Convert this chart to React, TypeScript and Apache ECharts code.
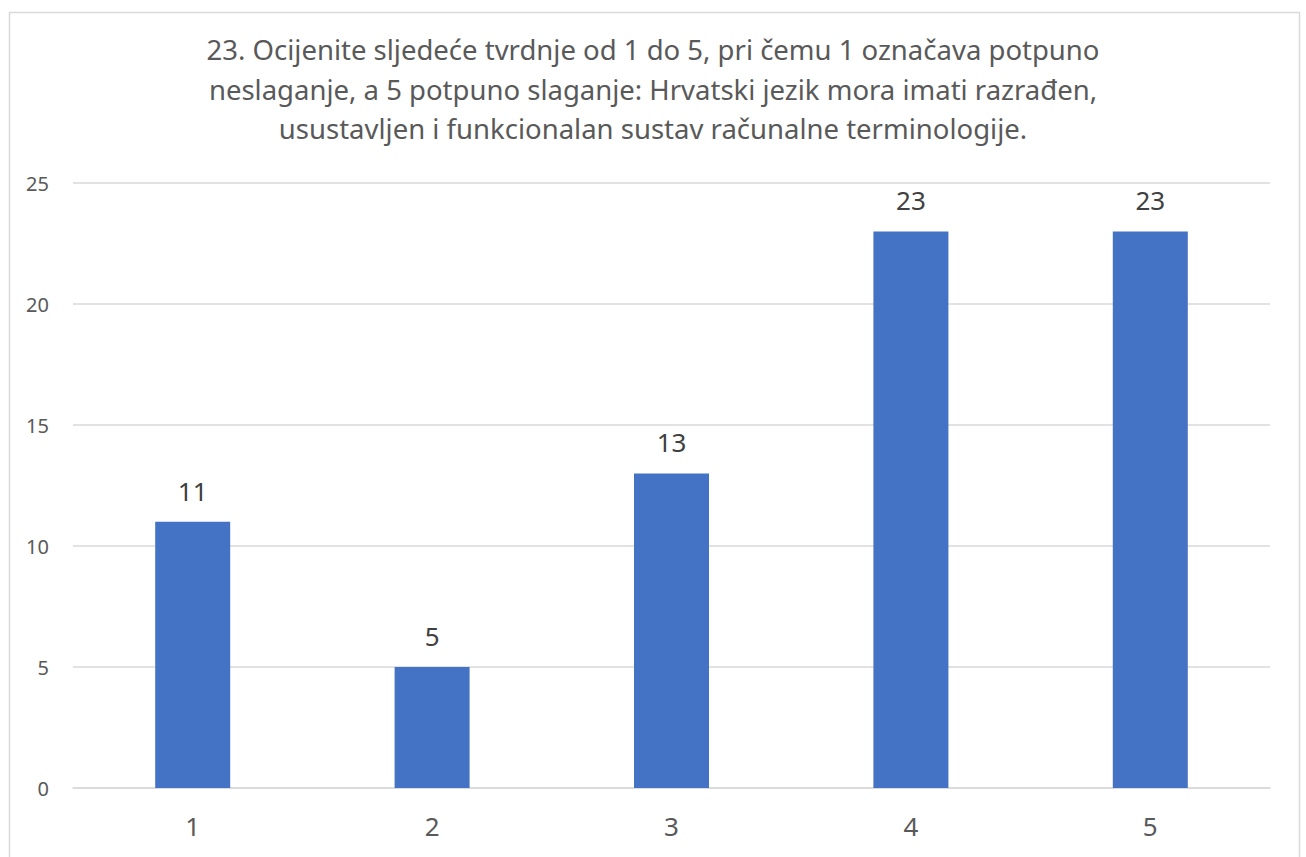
import React, { useEffect, useRef } from "react";
import * as echarts from "echarts";

const titleLines = [
  "23. Ocijenite sljedeće tvrdnje od 1 do 5, pri čemu 1 označava potpuno",
  "neslaganje, a 5 potpuno slaganje: Hrvatski jezik mora imati razrađen,",
  "usustavljen i funkcionalan sustav računalne terminologije.",
];
const categories = ["1", "2", "3", "4", "5"];
const values = [11, 5, 13, 23, 23];
const yTicks = { min: 0, max: 25, interval: 5 };

const FONT = "'Noto Sans', 'Open Sans', sans-serif";

export default function App() {
  const ref = useRef<HTMLDivElement>(null);
  useEffect(() => {
    if (!ref.current) return;
    const chart = echarts.init(ref.current, undefined, { renderer: "svg" });
    chart.setOption({
      animation: false,
      backgroundColor: "#ffffff",
      title: {
        text: titleLines.join("\n"),
        left: "center",
        top: 30,
        padding: 0,
        textStyle: {
          fontFamily: FONT,
          fontSize: 27.5,
          fontWeight: "normal",
          color: "#595959",
          lineHeight: 39.5,
        },
      },
      graphic: [
        {
          type: "rect",
          shape: { x: 9.5, y: 12.5, width: 1290, height: 880 },
          style: { fill: "none", stroke: "#d9d9d9", lineWidth: 1.5 },
          silent: true,
          z: -1,
        },
      ],
      grid: { left: 73, right: 36, top: 183, bottom: 69, containLabel: false },
      xAxis: {
        type: "category",
        data: categories,
        axisLine: { show: true, lineStyle: { color: "#d9d9d9", width: 1.5 } },
        axisTick: { show: false },
        axisLabel: {
          fontFamily: FONT,
          fontSize: 26,
          color: "#595959",
          margin: 25,
        },
      },
      yAxis: {
        type: "value",
        min: yTicks.min,
        max: yTicks.max,
        interval: yTicks.interval,
        axisLine: { show: false },
        axisTick: { show: false },
        splitLine: { lineStyle: { color: "#d9d9d9", width: 1.5 } },
        axisLabel: {
          fontFamily: FONT,
          fontSize: 20,
          color: "#595959",
          margin: 24,
        },
      },
      series: [
        {
          type: "bar",
          data: values,
          barWidth: 75,
          itemStyle: { color: "#4472c4" },
          label: {
            show: true,
            position: "top",
            distance: 18,
            fontFamily: FONT,
            fontSize: 26,
            color: "#404040",
          },
        },
      ],
    });
    return () => chart.dispose();
  }, []);
  return (
    <div
      ref={ref}
      style={{ position: "absolute", left: 0, top: 0, width: 1306, height: 857 }}
    />
  );
}
